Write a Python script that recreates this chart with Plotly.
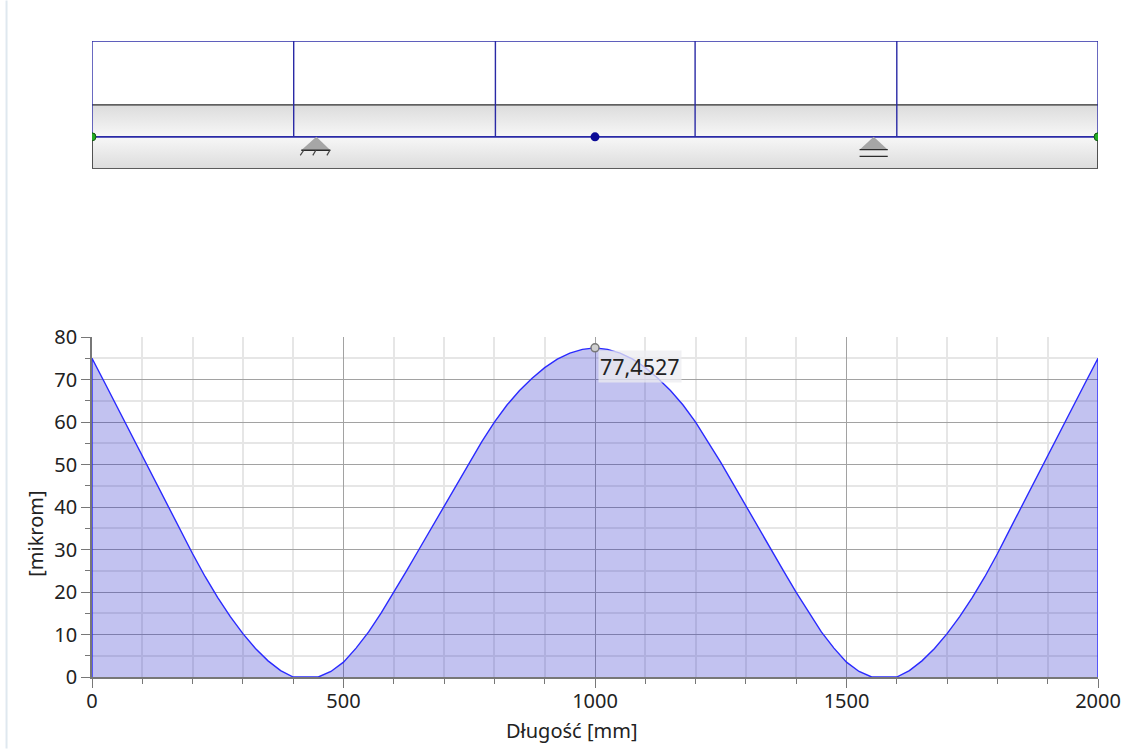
import plotly.graph_objects as go

length_mm = [0,25,50,75,100,125,150,175,200,225,250,275,300,325,350,375,400,425,450,475,500,525,550,575,600,625,650,675,700,725,750,775,800,825,850,875,900,925,950,975,1000,
             1025,1050,1075,1100,1125,1150,1175,1200,1225,1250,1275,1300,1325,1350,1375,1400,1425,1450,1475,1500,1525,1550,1575,1600,1625,1650,1675,1700,1725,1750,1775,1800,1825,1850,1875,1900,1925,1950,1975,2000]
mikrom = [75,69.3,63.5,57.8,52,46.3,40.6,34.8,29,23.6,18.7,14.2,10.2,6.7,3.8,1.5,0,0,0,1.3,3.5,6.8,10.6,15.1,19.9,24.9,30,35.1,40.2,45.4,50.5,55.4,60,64,67.4,70.3,72.8,74.8,76.2,77.1,77.4527,
          77.1,76.2,74.8,72.8,70.3,67.4,64,60,55.4,50.5,45.4,40.2,35.1,30,24.9,19.9,15.1,10.6,6.8,3.5,1.3,0,0,0,1.5,3.8,6.7,10.2,14.2,18.7,23.6,29,34.8,40.6,46.3,52,57.8,63.5,69.3,75]
peak_x = [1000]
peak_y = [77.4527]
peak_label = "77,4527"

cell_edges = [0, 401, 802, 1199, 1600, 2000]
nodes_end_x = [0, 2000]
node_mid_x = [1000]
fixed_tri_x = [446, 416, 474, 446]
fixed_tri_y = [1, .58, .58, 1]
fixed_hatch_x = [[421, 414], [445, 439], [473, 467]]
fixed_hatch_y = [.58, .42]
roller_tri_x = [1554, 1526, 1582, 1554]
roller_tri_y = [1, .6, .6, 1]
roller_base_x = [1526, 1582]
roller_base_y = [.39, .39]

BLUE = "#2a2aa6"
INK = "#2b2b2b"
FONT = "Noto Sans"

fig = go.Figure()

def diagram(**kw):
    fig.add_trace(go.Scatter(xaxis="x2", yaxis="y2", hoverinfo="skip", **kw))

# beam gradient bands
for lo, hi, scale in [(1, 2, [[0, "#f7f7f7"], [1, "#dcdcdc"]]), (0, 1, [[0, "#dcdcdc"], [1, "#f7f7f7"]])]:
    diagram(x=[0, 2000, 2000, 0, 0], y=[lo, lo, hi, hi, lo], mode="lines", line=dict(width=0),
            fill="toself", fillgradient=dict(type="vertical", colorscale=scale, start=lo, stop=hi))
# black outline
diagram(x=[0, 0, 2000, 2000], y=[1, 0, 0, 1], mode="lines", line=dict(color=INK, width=1.6), cliponaxis=False)
diagram(x=[0, 2000], y=[2, 2], mode="lines", line=dict(color=INK, width=1.4), cliponaxis=False)
# blue frame
for e in cell_edges:
    diagram(x=[e, e], y=[1, 4], mode="lines", line=dict(color=BLUE, width=1.4), cliponaxis=False)
diagram(x=[0, 2000], y=[4, 4], mode="lines", line=dict(color=BLUE, width=1.6), cliponaxis=False)
diagram(x=[0, 2000], y=[1, 1], mode="lines", line=dict(color=BLUE, width=1.6), cliponaxis=False)
# supports
diagram(x=fixed_tri_x, y=fixed_tri_y, mode="lines", fill="toself", fillcolor="#a6a6a6", line=dict(width=0))
diagram(x=fixed_tri_x[1:3], y=fixed_tri_y[1:3], mode="lines", line=dict(color=INK, width=1.3))
for hx in fixed_hatch_x:
    diagram(x=hx, y=fixed_hatch_y, mode="lines", line=dict(color="#444444", width=1.2))
diagram(x=roller_tri_x, y=roller_tri_y, mode="lines", fill="toself", fillcolor="#a6a6a6", line=dict(width=0))
diagram(x=roller_tri_x[1:3], y=roller_tri_y[1:3], mode="lines", line=dict(color=INK, width=1.3))
diagram(x=roller_base_x, y=roller_base_y, mode="lines", line=dict(color=INK, width=1.3))
# nodes
diagram(x=nodes_end_x, y=[1, 1], mode="markers", marker=dict(size=8, color="#22aa22", line=dict(color="#115511", width=1)))
diagram(x=node_mid_x, y=[1], mode="markers", marker=dict(size=9, color="#0a0a96"))

# main curve
fig.add_trace(go.Scatter(x=[length_mm[0]] + length_mm + [length_mm[-1]], y=[0] + mikrom + [0], mode="lines",
                         line=dict(color="#2a2aff", width=1.4), fill="tozeroy", fillcolor="rgba(30,30,200,0.27)",
                         cliponaxis=False, hoverinfo="skip"))
fig.add_trace(go.Scatter(x=peak_x, y=peak_y, mode="markers", hoverinfo="skip",
                         marker=dict(size=8, color="#cfcfcf", line=dict(color="#777777", width=1.5))))

tickfont = dict(family=FONT, size=20, color="#222222")
title_font = dict(family=FONT, size=20, color="#222222")
AXIS_GREY = "#777777"
common = dict(ticks="outside", ticklen=9, tickcolor=AXIS_GREY, tickfont=tickfont, showgrid=True, gridcolor="#a2a2a2",
              gridwidth=1.3, zeroline=False, showline=True, linecolor=AXIS_GREY, linewidth=1.5, layer="below traces",
              automargin=False)

ML, MR, MT, MB = 92, 33.5, 40.5, 71.5
plot_w = 1132 - ML - MR
plot_h = 749 - MT - MB
fig.update_layout(
    width=1132, height=749, showlegend=False, paper_bgcolor="white", plot_bgcolor="white",
    margin=dict(l=ML, r=MR, t=MT, b=MB),
    font=dict(family=FONT, color="#222222"),
    xaxis=dict(domain=[0, 1], range=[0, 2000], tick0=0, dtick=500, anchor="y", ticklabelstandoff=-4,
               minor=dict(dtick=100, ticks="outside", ticklen=5, tickcolor=AXIS_GREY, showgrid=True, gridcolor="#e6e6e6", gridwidth=1.5),
               **common),
    yaxis=dict(domain=[0, 340.5 / plot_h], range=[0, 80], tick0=0, dtick=10, anchor="x",
               minor=dict(dtick=5, ticks="outside", ticklen=5, tickcolor=AXIS_GREY, showgrid=True, gridcolor="#e6e6e6", gridwidth=1.5),
               **common),
    xaxis2=dict(domain=[0, 1], range=[0, 2000], visible=False, anchor="y2", automargin=False),
    yaxis2=dict(domain=[(749 - MB - 168.5) / plot_h, 1], range=[0, 4], visible=False, anchor="x2", automargin=False),
    shapes=[dict(type="line", xref="paper", yref="paper", x0=(6.5 - ML) / plot_w, x1=(6.5 - ML) / plot_w,
                 y0=-MB / plot_h, y1=1 + MT / plot_h, line=dict(color="#dfe8ef", width=2))],
    annotations=[
        dict(x=peak_x[0], y=peak_y[0], xref="x", yref="y", text=peak_label, showarrow=False,
             xanchor="left", yanchor="top", xshift=3, yshift=-2, bgcolor="rgba(236,236,240,0.75)",
             font=dict(family=FONT, size=21.5, color="#222222"), borderpad=1),
        dict(x=(572 - ML) / plot_w, y=(749 - MB - 731) / plot_h, xref="paper", yref="paper", text="Długość [mm]",
             showarrow=False, font=title_font, xanchor="center", yanchor="middle"),
        dict(x=(36 - ML) / plot_w, y=(749 - MB - 534) / plot_h, xref="paper", yref="paper", text="[mikrom]",
             showarrow=False, font=title_font, textangle=-90, xanchor="center", yanchor="middle"),
    ],
)
fig.write_html("out.html", config={"displayModeBar": False},
               post_script="document.body.style.margin='0';document.body.style.overflow='hidden';")
